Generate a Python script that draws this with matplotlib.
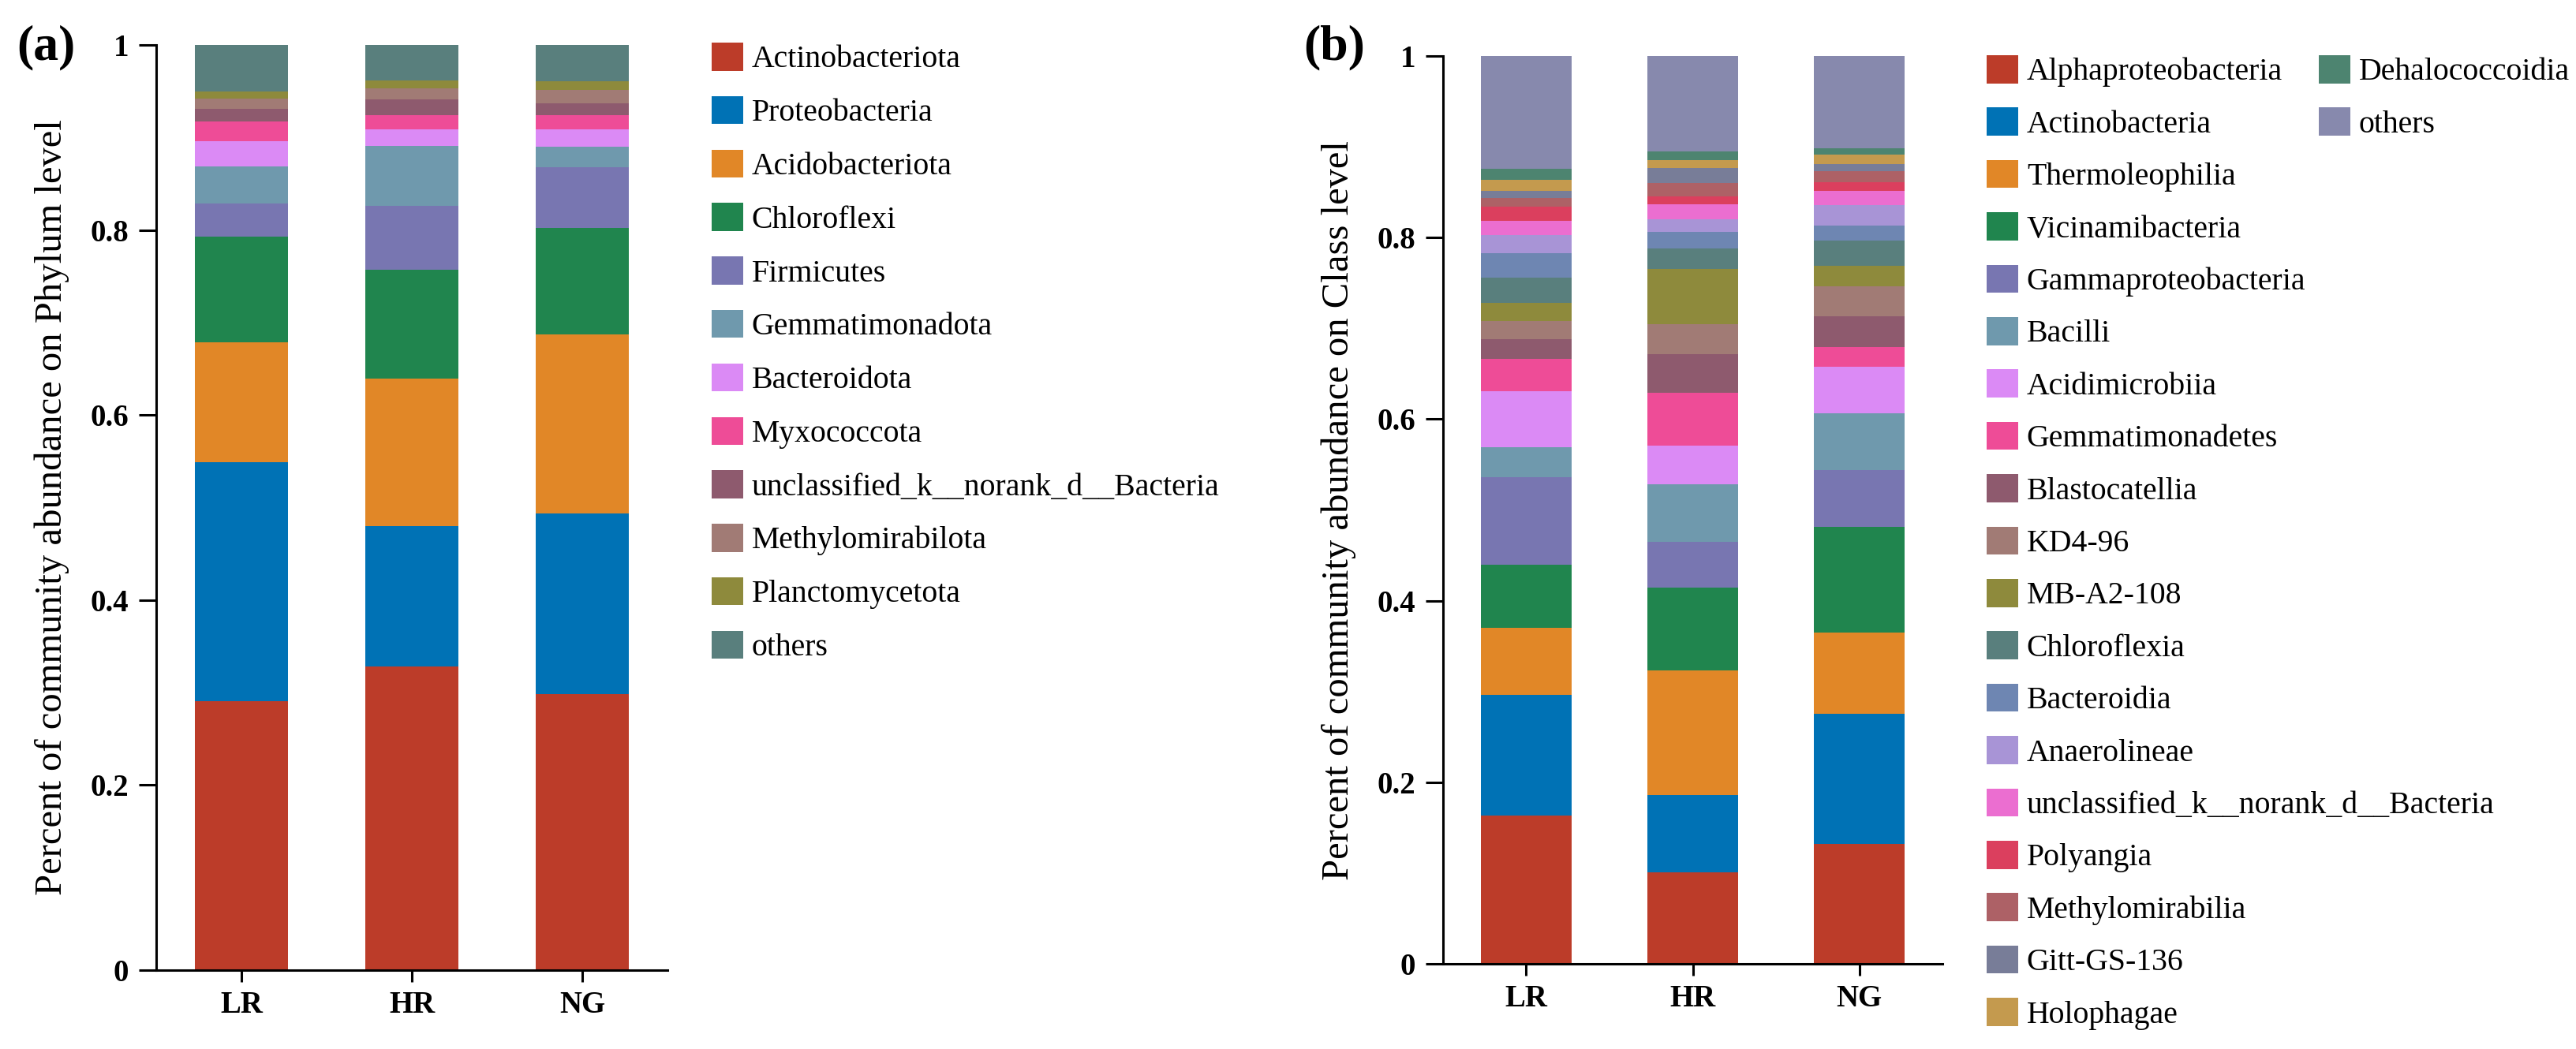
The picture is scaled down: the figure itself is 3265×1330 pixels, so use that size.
import matplotlib
matplotlib.use('Agg')
import matplotlib.pyplot as plt
from matplotlib.patches import Patch
import numpy as np

plt.rcParams['font.family'] = ['Liberation Serif', 'DejaVu Serif']

samples = ['LR', 'HR', 'NG']

# ---- phylum level (a) ----
phylum_names = ['Actinobacteriota', 'Proteobacteria', 'Acidobacteriota', 'Chloroflexi',
                'Firmicutes', 'Gemmatimonadota', 'Bacteroidota', 'Myxococcota',
                'unclassified_k__norank_d__Bacteria', 'Methylomirabilota',
                'Planctomycetota', 'others']
phylum_lr = [0.291, 0.258, 0.130, 0.114, 0.036, 0.040, 0.027, 0.021, 0.014, 0.011, 0.008, 0.050]
phylum_hr = [0.328, 0.152, 0.159, 0.118, 0.069, 0.065, 0.018, 0.015, 0.017, 0.012, 0.009, 0.038]
phylum_ng = [0.298, 0.196, 0.193, 0.115, 0.066, 0.022, 0.019, 0.015, 0.013, 0.014, 0.010, 0.039]
phylum_colors = ['#BC3C29', '#0072B5', '#E18727', '#20854E', '#7876B1', '#6F99AD',
                 '#DB8AF5', '#EE4C97', '#8E5A6E', '#A17B75', '#8E8A3C', '#597F7D']

# ---- class level (b) ----
class_names = ['Alphaproteobacteria', 'Actinobacteria', 'Thermoleophilia', 'Vicinamibacteria',
               'Gammaproteobacteria', 'Bacilli', 'Acidimicrobiia', 'Gemmatimonadetes',
               'Blastocatellia', 'KD4-96', 'MB-A2-108', 'Chloroflexia', 'Bacteroidia',
               'Anaerolineae', 'unclassified_k__norank_d__Bacteria', 'Polyangia',
               'Methylomirabilia', 'Gitt-GS-136', 'Holophagae', 'Dehalococcoidia', 'others']
class_lr = [0.163, 0.133, 0.074, 0.070, 0.096, 0.033, 0.062, 0.035, 0.022, 0.020, 0.020,
            0.028, 0.027, 0.020, 0.015, 0.016, 0.010, 0.007, 0.013, 0.012, 0.124]
class_hr = [0.101, 0.085, 0.137, 0.091, 0.051, 0.063, 0.043, 0.058, 0.043, 0.033, 0.060,
            0.023, 0.018, 0.014, 0.017, 0.008, 0.015, 0.017, 0.008, 0.010, 0.105]
class_ng = [0.132, 0.143, 0.090, 0.116, 0.063, 0.062, 0.052, 0.021, 0.034, 0.033, 0.023,
            0.028, 0.016, 0.023, 0.015, 0.010, 0.012, 0.008, 0.010, 0.007, 0.102]
class_colors = ['#BC3C29', '#0072B5', '#E18727', '#20854E', '#7876B1', '#6F99AD',
                '#DB8AF5', '#EE4C97', '#8E5A6E', '#A17B75', '#8E8A3C', '#597F7D',
                '#6E86B2', '#A894D6', '#EB6ED0', '#DB3F5E', '#AD6166', '#787D98',
                '#C49A4E', '#4D8470', '#8789AD']

W, H = 3266, 1330
fig = plt.figure(figsize=(W / 100, H / 100), dpi=100)


def px_axes(left, top, right, bottom):
    return fig.add_axes([left / W, 1 - bottom / H, (right - left) / W, (bottom - top) / H])


def stacked(ax, values, colors, width):
    data = np.array(values)
    x = np.arange(len(samples))
    base = np.zeros(len(samples))
    for i in range(data.shape[1]):
        ax.bar(x, data[:, i], width, bottom=base, color=colors[i], linewidth=0)
        base += data[:, i]
    ax.set_xlim(-0.5, 2.5)
    ax.set_ylim(0, 1)
    ax.set_yticks([0, 0.2, 0.4, 0.6, 0.8, 1.0])
    ax.set_yticklabels(['0', '0.2', '0.4', '0.6', '0.8', '1'])
    ax.set_xticks(x)
    ax.set_xticklabels(samples)
    for s in ['top', 'right']:
        ax.spines[s].set_visible(False)
    for s in ['left', 'bottom']:
        ax.spines[s].set_linewidth(2.2)
    ax.tick_params(axis='y', length=16, width=2.2, pad=9, labelsize=28)
    ax.tick_params(axis='x', length=11, width=2.2, pad=8, labelsize=28)
    for lab in ax.get_xticklabels() + ax.get_yticklabels():
        lab.set_fontweight('bold')


def make_legend(ax, names, colors, x, y, spacing):
    handles = [Patch(facecolor=c, edgecolor='none') for c in colors]
    leg = ax.legend(handles, names, loc='upper left', bbox_to_anchor=(x / W, 1 - y / H),
                    bbox_transform=fig.transFigure, frameon=False, fontsize=28.6,
                    handlelength=1.0, handleheight=1.0, handletextpad=0.28,
                    labelspacing=spacing, borderpad=0, borderaxespad=0)
    return leg


# panel (a)
ax1 = px_axes(198, 57, 846, 1230)
stacked(ax1, [phylum_lr, phylum_hr, phylum_ng], phylum_colors, 0.546)
ax1.set_ylabel('Percent of community abundance on Phylum level', fontsize=35, labelpad=19)
make_legend(ax1, phylum_names, phylum_colors, 902, 54, 0.69)
fig.text(21 / W, 1 - 60 / H, '(a)', fontsize=46, fontweight='bold', va='center', ha='left')

# panel (b)
ax2 = px_axes(1829, 71, 2462, 1222)
stacked(ax2, [class_lr, class_hr, class_ng], class_colors, 0.545)
ax2.set_ylabel('Percent of community abundance on Class level', fontsize=35, labelpad=19)
leg1 = make_legend(ax2, class_names[:19], class_colors[:19], 2518, 70, 0.655)
ax2.add_artist(leg1)
make_legend(ax2, class_names[19:], class_colors[19:], 2939, 70, 0.655)
fig.text(1652 / W, 1 - 60 / H, '(b)', fontsize=46, fontweight='bold', va='center', ha='left')

fig.savefig('out.png', dpi=100, facecolor='white')
